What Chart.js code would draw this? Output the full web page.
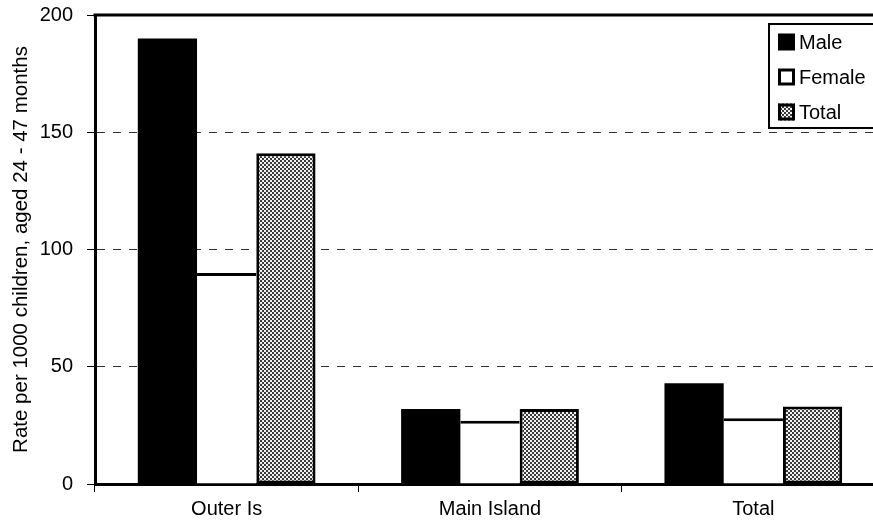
<!DOCTYPE html>
<html>
<head>
<meta charset="utf-8">
<script src="https://cdn.jsdelivr.net/npm/chart.js@4/dist/chart.umd.min.js"></script>
<style>
  html, body { margin: 0; padding: 0; background: #fff; overflow: hidden; }
  #wrap { position: relative; width: 890px; height: 532px; }
</style>
</head>
<body>
<div id="wrap"><canvas id="c" width="890" height="532"></canvas></div>
<script>
const categories = ["Outer Is", "Main Island", "Total"];
const maleValues = [190, 32, 43];
const femaleValues = [90, 27, 28];
const totalValues = [141, 32, 33];
const seriesNames = ["Male", "Female", "Total"];
const yTicks = [0, 50, 100, 150, 200];
const yTitle = "Rate per 1000 children, aged 24 - 47 months";

const FONT = "'Liberation Sans', Arial, sans-serif";

function makePattern() {
  const p = document.createElement('canvas');
  p.width = 4; p.height = 4;
  const g = p.getContext('2d');
  g.fillStyle = '#f2f2f2';
  g.fillRect(0, 0, 4, 4);
  g.fillStyle = '#3a3a3a';
  g.fillRect(0, 0, 2, 2);
  g.fillRect(2, 2, 2, 2);
  return document.getElementById('c').getContext('2d').createPattern(p, 'repeat');
}
const dotted = makePattern();

const legendBox = {
  id: 'legendBox',
  afterDraw(chart) {
    const ctx = chart.ctx;
    ctx.save();
    const x0 = 769, y0 = 24, w = 140, h = 104;
    ctx.fillStyle = '#fff';
    ctx.fillRect(x0, y0, w, h);
    ctx.lineWidth = 2;
    ctx.strokeStyle = '#000';
    ctx.strokeRect(x0, y0, w, h);
    ctx.font = '20px ' + FONT;
    ctx.textBaseline = 'middle';
    ctx.textAlign = 'left';
    chart.data.datasets.forEach((ds, i) => {
      const cy = 42 + i * 35;
      const sx = 778, s = 17;
      ctx.fillStyle = ds.backgroundColor;
      ctx.fillRect(sx, cy - s / 2, s, s);
      if (ds.label !== seriesNames[0]) {
        ctx.lineWidth = 3;
        ctx.strokeStyle = '#000';
        ctx.strokeRect(sx + 1.5, cy - s / 2 + 1.5, s - 3, s - 3);
      }
      ctx.fillStyle = '#000';
      ctx.fillText(ds.label, 799, cy + 1);
    });
    ctx.restore();
  }
};

const topBorder = {
  id: 'topBorder',
  afterDatasetsDraw(chart) {
    const {ctx, chartArea} = chart;
    ctx.save();
    ctx.strokeStyle = '#000';
    ctx.lineWidth = 3;
    ctx.beginPath();
    ctx.moveTo(chartArea.left - 1.5, chartArea.top);
    ctx.lineTo(chartArea.right, chartArea.top);
    ctx.stroke();
    ctx.restore();
  }
};

new Chart(document.getElementById('c'), {
  type: 'bar',
  data: {
    labels: categories,
    datasets: [
      { label: seriesNames[0], data: maleValues, backgroundColor: '#000', borderWidth: 0 },
      { label: seriesNames[1], data: femaleValues, backgroundColor: '#fff', borderColor: '#000', borderWidth: {top: 3, left: 0, right: 0, bottom: 0} },
      { label: seriesNames[2], data: totalValues, backgroundColor: dotted, borderColor: '#000', borderWidth: 3 }
    ]
  },
  options: {
    responsive: false,
    animation: false,
    devicePixelRatio: 1,
    layout: { padding: { top: 15, right: 5, left: 0, bottom: 0 } },
    datasets: { bar: { categoryPercentage: 0.675, barPercentage: 1.0, borderSkipped: false } },
    plugins: { legend: { display: false }, tooltip: { enabled: false } },
    scales: {
      x: {
        grid: { display: true, drawOnChartArea: false, drawTicks: true, tickLength: 8, tickColor: '#000', tickWidth: 1 },
        border: { display: true, color: '#000', width: 3 },
        ticks: { color: '#000', font: { family: FONT, size: 20 }, padding: 5, maxRotation: 0 },
        afterFit(scale) { scale.height = 48; scale.paddingLeft = 0; scale.paddingRight = 0; }
      },
      y: {
        min: 0, max: 200,
        afterBuildTicks(scale) { scale.ticks = yTicks.map(v => ({ value: v })); },
        grid: { display: true, drawOnChartArea: true, drawTicks: true, tickLength: 8, color: '#333', lineWidth: 1, tickColor: '#000', tickWidth: 1, tickBorderDash: [] },
        border: { display: true, color: '#000', width: 3, dash: [8, 8] },
        ticks: { color: '#000', font: { family: FONT, size: 20 }, padding: 14 },
        title: { display: true, text: yTitle, color: '#000', font: { family: FONT, size: 20.5 }, padding: { top: 9, bottom: 0 } },
        afterFit(scale) { scale.width = 95; scale.paddingTop = 0; scale.paddingBottom = 0; }
      }
    }
  },
  plugins: [topBorder, legendBox]
});
</script>
</body>
</html>
